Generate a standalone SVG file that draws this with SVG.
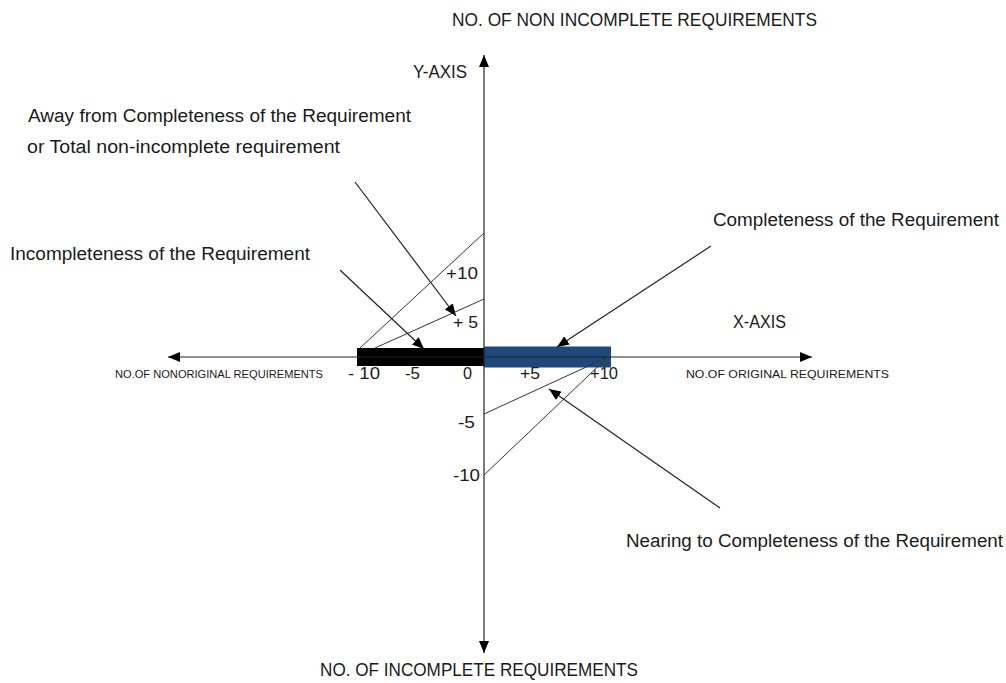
<svg xmlns="http://www.w3.org/2000/svg" width="1006" height="683" viewBox="0 0 1006 683">
<style>
text{font-family:"Liberation Sans","Open Sans",sans-serif;fill:#1a1a1a}
.lbl{font-size:18px}
.num{font-size:16px}
.small{font-size:11px}
.ln{stroke:#222;stroke-width:1.2;fill:none}
.thin{stroke:#333;stroke-width:1;fill:none}
</style>
<defs>
<marker id="ah" viewBox="0 0 12 10" refX="12" refY="5" markerWidth="12" markerHeight="10" markerUnits="userSpaceOnUse" orient="auto-start-reverse">
<path d="M0,0 L12,5 L0,10 z" fill="#000"/>
</marker>
</defs>
<rect width="1006" height="683" fill="#fff"/>
<g id="bars">
<rect x="357" y="348" width="127" height="18" fill="#000"/>
<rect x="484" y="346.5" width="127" height="21" fill="#1f497d"/>
</g>
<g id="connectors">
<line class="ln" x1="484" y1="55" x2="484" y2="653" marker-start="url(#ah)" marker-end="url(#ah)"/>
<line class="ln" x1="168" y1="357" x2="812" y2="357" marker-start="url(#ah)" marker-end="url(#ah)"/>
<line class="thin" x1="360" y1="348" x2="484" y2="233"/>
<line class="thin" x1="375" y1="348" x2="484" y2="299"/>
<line class="thin" x1="608" y1="357" x2="484" y2="414"/>
<line class="thin" x1="608" y1="357" x2="484" y2="475"/>
<line class="ln" x1="355" y1="182" x2="456" y2="316" marker-end="url(#ah)"/>
<line class="ln" x1="340" y1="270" x2="424" y2="349" marker-end="url(#ah)"/>
<line class="ln" x1="711" y1="246" x2="557" y2="347" marker-end="url(#ah)"/>
<line class="ln" x1="720" y1="508" x2="549" y2="389" marker-end="url(#ah)"/>
</g>
<g id="title-top"><text class="lbl" x="452" y="26" textLength="365" lengthAdjust="spacingAndGlyphs">NO. OF NON INCOMPLETE REQUIREMENTS</text></g>
<g id="title-bottom"><text class="lbl" x="320" y="676" textLength="318" lengthAdjust="spacingAndGlyphs">NO. OF INCOMPLETE REQUIREMENTS</text></g>
<g id="y-axis-label"><text class="lbl" x="413" y="78" textLength="54" lengthAdjust="spacingAndGlyphs">Y-AXIS</text></g>
<g id="x-axis-label"><text class="lbl" x="733" y="328" textLength="53" lengthAdjust="spacingAndGlyphs">X-AXIS</text></g>
<g id="x-right-label"><text class="small" x="686" y="378" textLength="203" lengthAdjust="spacingAndGlyphs">NO.OF ORIGINAL REQUIREMENTS</text></g>
<g id="x-left-label"><text class="small" x="115" y="378" textLength="208" lengthAdjust="spacingAndGlyphs">NO.OF NONORIGINAL REQUIREMENTS</text></g>
<g id="away-label">
<text class="lbl" x="28" y="122" textLength="383" lengthAdjust="spacingAndGlyphs">Away from Completeness of the Requirement</text>
<text class="lbl" x="27" y="153" textLength="313" lengthAdjust="spacingAndGlyphs">or Total non-incomplete  requirement</text>
</g>
<g id="incompleteness-label"><text class="lbl" x="10" y="260" textLength="300" lengthAdjust="spacingAndGlyphs">Incompleteness of the Requirement</text></g>
<g id="completeness-label"><text class="lbl" x="713" y="226" textLength="286" lengthAdjust="spacingAndGlyphs">Completeness of the Requirement</text></g>
<g id="nearing-label"><text class="lbl" x="626" y="547" textLength="377" lengthAdjust="spacingAndGlyphs">Nearing to Completeness of the Requirement</text></g>
<g id="ticks">
<text class="num" x="446" y="279" textLength="32" lengthAdjust="spacingAndGlyphs">+10</text>
<text class="num" x="453" y="328" textLength="25" lengthAdjust="spacingAndGlyphs">+ 5</text>
<text class="num" x="348" y="379" textLength="32" lengthAdjust="spacingAndGlyphs">- 10</text>
<text class="num" x="405" y="379" textLength="15" lengthAdjust="spacingAndGlyphs">-5</text>
<text class="num" x="463" y="379" textLength="9" lengthAdjust="spacingAndGlyphs">0</text>
<text class="num" x="520" y="379" textLength="20" lengthAdjust="spacingAndGlyphs">+5</text>
<text class="num" x="590" y="379" textLength="28" lengthAdjust="spacingAndGlyphs">+10</text>
<text class="num" x="458" y="428" textLength="17" lengthAdjust="spacingAndGlyphs">-5</text>
<text class="num" x="453" y="481" textLength="27" lengthAdjust="spacingAndGlyphs">-10</text>
</g>
</svg>
